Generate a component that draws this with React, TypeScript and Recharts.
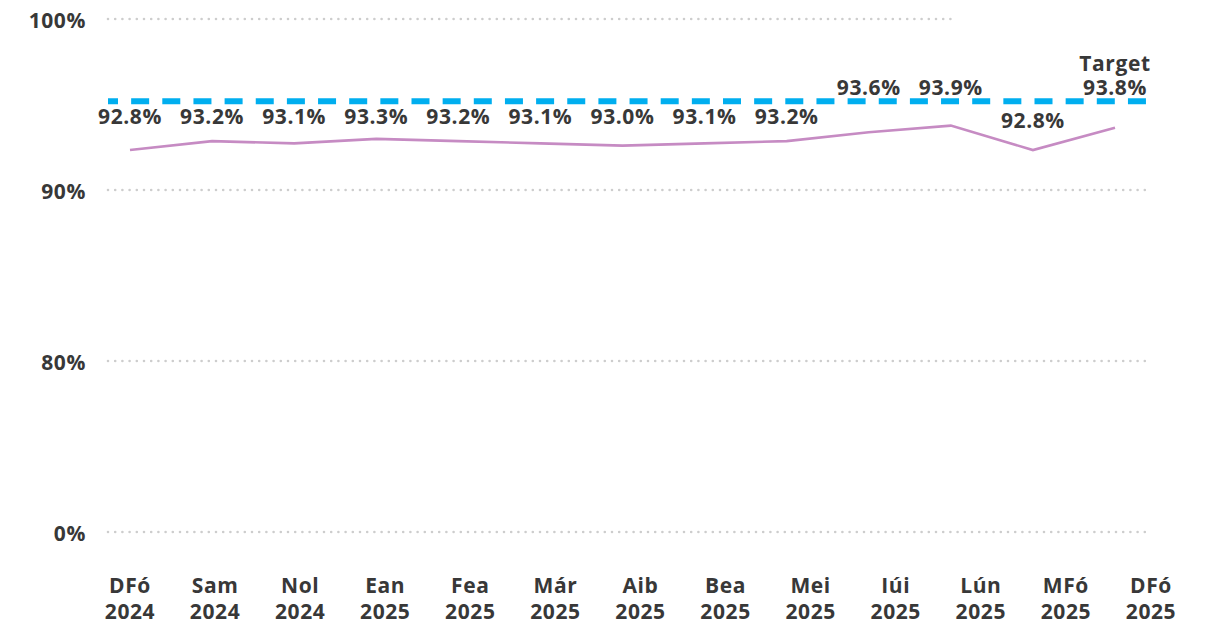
import React from 'react';
import { LineChart, Line, XAxis, YAxis, ReferenceLine, LabelList } from 'recharts';

// ---- Data ----
const MONTHS = ['DFó', 'Sam', 'Nol', 'Ean', 'Fea', 'Már', 'Aib', 'Bea', 'Mei', 'Iúi', 'Lún', 'MFó', 'DFó'];
const YEARS = ['2024', '2024', '2024', '2025', '2025', '2025', '2025', '2025', '2025', '2025', '2025', '2025', '2025'];
const VALUES = [92.8, 93.2, 93.1, 93.3, 93.2, 93.1, 93.0, 93.1, 93.2, 93.6, 93.9, 92.8, 93.8];
const TARGET = 95;
const TARGET_LABEL = 'Target';
const Y_TICK_VALUES = [0, 80, 90, 100];
const Y_TICK_LABELS = ['0%', '80%', '90%', '100%'];

// broken (non-linear) value axis: each tick band occupies equal height;
// the upper band is zoomed on the range where the data lives
const BAND_LO = 91;
const BAND_HI = 98.7;
function toDisplay(v: number): number {
  if (v <= 80) return v / 80;
  if (v < 90) return 1 + (v - 80) / 10;
  return 2 + (v - BAND_LO) / (BAND_HI - BAND_LO);
}

const ROWS = VALUES.map((v, i) => ({ idx: i, disp: toDisplay(v), target: toDisplay(TARGET) }));
const IDX = VALUES.map((_, i) => i);
const ABOVE = new Set([9, 10, 12]);
const LOWER = new Set([11]);

const FONT = '"Open Sans", sans-serif';
const TEXT = '#383838';
const GRID = '#cdcdcd';
const FS = 21;
const LS = 0.6;

const YTick = (props: any) => {
  const { x, y, payload } = props;
  const i = Math.round(payload.value);
  return (
    <text x={x} y={y} dy={8.9} textAnchor="end" fontFamily={FONT} fontWeight={700} fontSize={FS} letterSpacing={LS} fill={TEXT}>
      {Y_TICK_LABELS[i] ?? Y_TICK_LABELS[Y_TICK_VALUES.indexOf(payload.value)]}
    </text>
  );
};

const CatTick = (props: any) => {
  const { x, y, payload } = props;
  const i = Math.round(payload.value);
  return (
    <text textAnchor="middle" fontFamily={FONT} fontWeight={700} fontSize={FS} letterSpacing={LS} fill={TEXT}>
      <tspan x={x} y={y + 61}>{MONTHS[i]}</tspan>
      <tspan x={x} y={y + 86.5}>{YEARS[i]}</tspan>
    </text>
  );
};

const DataLabel = (props: any) => {
  const { x, y, index } = props;
  const v = VALUES[index];
  const txt = v.toFixed(1) + '%';
  let by = y + 22.5;
  if (ABOVE.has(index)) by = y - 6;
  else if (LOWER.has(index)) by = y + 27;
  return (
    <g>
      <text x={x} y={by} textAnchor="middle" fontFamily={FONT} fontWeight={700} fontSize={FS} letterSpacing={LS} fill={TEXT}>
        {txt}
      </text>
      {index === VALUES.length - 1 ? (
        <text x={x} y={y - 30} textAnchor="middle" fontFamily={FONT} fontWeight={700} fontSize={FS} letterSpacing={LS} fill={TEXT}>
          {TARGET_LABEL}
        </text>
      ) : null}
    </g>
  );
};

export default function App() {
  return (
    <div style={{ position: 'absolute', left: 0, top: 0, background: '#fff' }}>
      <LineChart width={1214} height={621} data={ROWS} margin={{ top: 19, right: 67, bottom: 0, left: 0 }}>
        <XAxis xAxisId="line" dataKey="idx" type="number" domain={[0, 12]} padding={{ left: 22, right: 32 }} hide />
        <XAxis xAxisId="grid" dataKey="idx" type="number" domain={[0, 1]} allowDataOverflow hide />
        <XAxis
          xAxisId="cat"
          dataKey="idx"
          type="number"
          domain={[0, 12]}
          ticks={IDX}
          interval={0}
          padding={{ left: 22, right: -4 }}
          axisLine={false}
          tickLine={false}
          tickSize={0}
          tickMargin={0}
          height={89}
          tick={<CatTick />}
        />
        <YAxis
          type="number"
          domain={[0, 3]}
          ticks={[0, 1, 2, 3]}
          interval={0}
          width={108}
          axisLine={false}
          tickLine={false}
          tickSize={0}
          tickMargin={22}
          tick={<YTick />}
        />
        {[0, 1, 2].map((t) => (
          <ReferenceLine
            key={t}
            xAxisId="line"
            y={t}
            stroke={GRID}
            strokeWidth={2.6}
            strokeDasharray="0 7.2"
            strokeLinecap="round"
          />
        ))}
        <ReferenceLine
          xAxisId="grid"
          ifOverflow="visible"
          segment={[{ x: 0, y: 3 }, { x: 0.817, y: 3 }]}
          stroke={GRID}
          strokeWidth={2.6}
          strokeDasharray="0 7.2"
          strokeLinecap="round"
        />
        <ReferenceLine
          xAxisId="line"
          y={toDisplay(TARGET)}
          stroke="#00aeef"
          strokeWidth={6}
          strokeDasharray="18 13.15"
          strokeDashoffset={8}
        />
        <Line
          xAxisId="line"
          dataKey="disp"
          stroke="#c68bc3"
          strokeWidth={2.6}
          dot={false}
          activeDot={false}
          isAnimationActive={false}
        />
        <Line
          xAxisId="line"
          dataKey="target"
          stroke="none"
          dot={false}
          activeDot={false}
          isAnimationActive={false}
        >
          <LabelList dataKey="target" content={<DataLabel />} />
        </Line>
      </LineChart>
    </div>
  );
}
